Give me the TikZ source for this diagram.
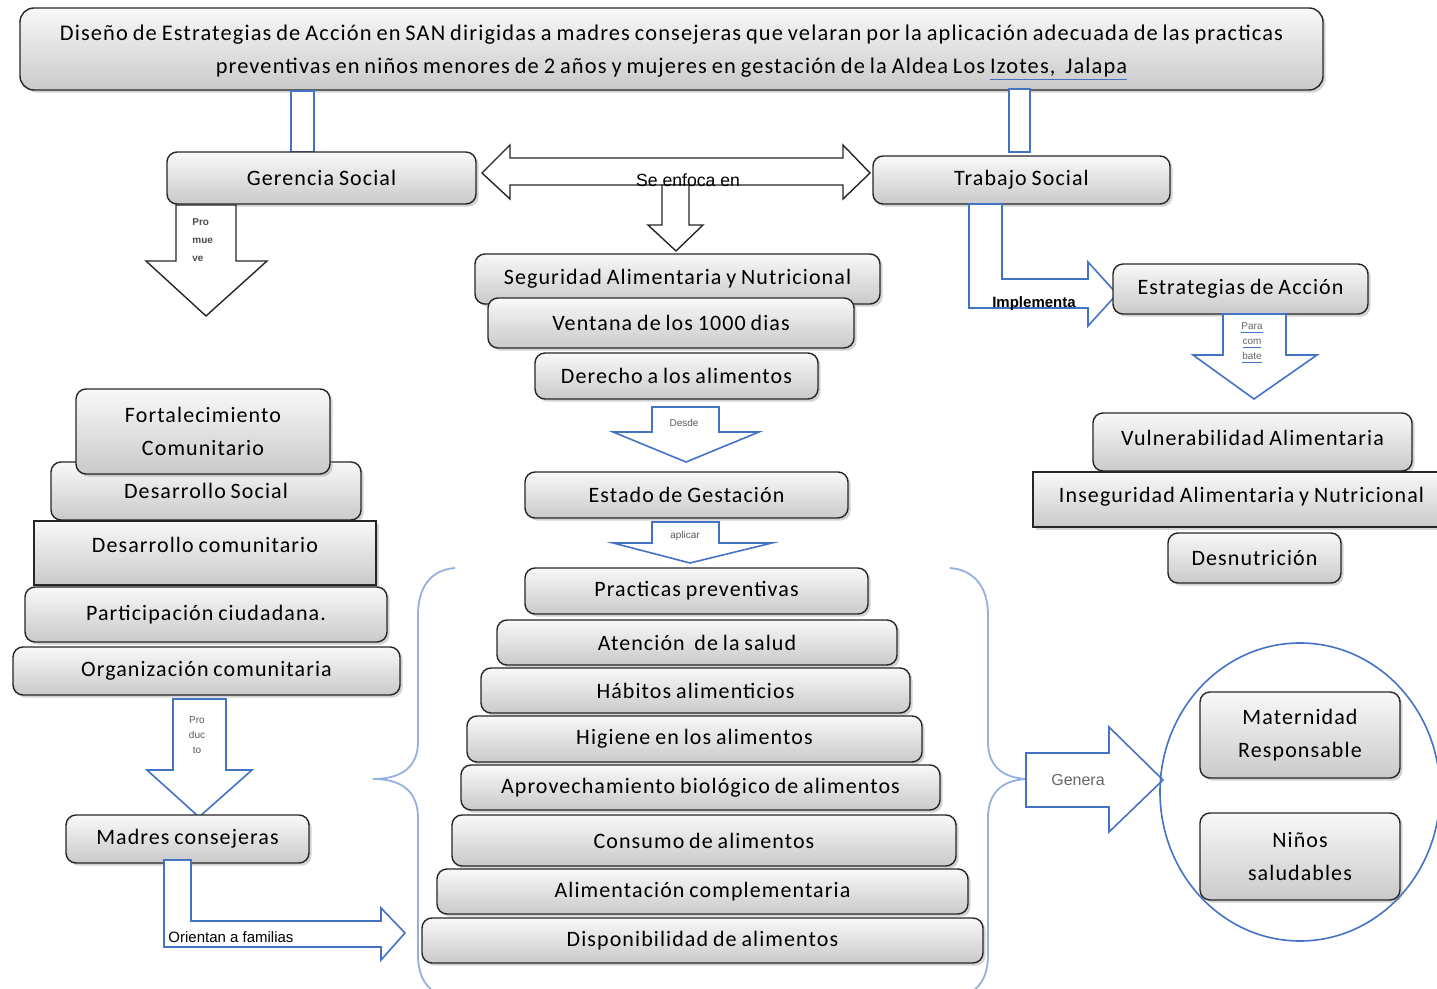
\documentclass[tikz,border=0pt]{standalone}
\usepackage{fontspec}
\setmainfont{Carlito}[LetterSpace=5,WordSpace=0.8]
\newfontfamily\arialf{Liberation Sans}
\usetikzlibrary{shadows}
\definecolor{arrblue}{RGB}{68,114,196}
\definecolor{braceblue}{RGB}{150,176,222}
\tikzset{
  % --- gray boxes ------------------------------------------------------------
  box/.style={draw=black!85,line width=0.7pt,rounded corners=5pt,
              top color=gray!5,bottom color=gray!42,align=center,inner sep=0pt,
              font=\fontsize{11}{16.5}\selectfont,
              drop shadow={shadow xshift=1.3pt,shadow yshift=-1.3pt,opacity=0.35}},
  sqbox/.style={box,rounded corners=0pt},
  % --- block arrows ----------------------------------------------------------
  blk/.style={draw=black!85,fill=white,line width=0.7pt},
  bblk/.style={draw=arrblue,fill=white,line width=0.8pt},
  brace/.style={draw=braceblue,line width=0.9pt},
  % --- small labels inside arrows ------------------------------------------
  minilab/.style={font=\arialf\fontsize{5}{7.5}\selectfont,text=black!65,
                  align=center,inner sep=0pt},
  arrlab/.style={font=\arialf\fontsize{7.5}{9}\selectfont,inner sep=0pt},
}
\begin{document}
\begin{tikzpicture}[x=0.5pt,y=-0.5pt]
  \useasboundingbox (0,0) rectangle (1437,989);

  % title
  \node[box,rounded corners=7pt,minimum width=651.5pt,minimum height=41pt,text depth=0pt,
        font=\fontsize{11.2}{16.5}\selectfont] (title) at (671.5,49)
    {Diseño de Estrategias de Acción en SAN dirigidas a madres consejeras que velaran por la aplicación adecuada de las practicas\\
     preventivas en niños menores de 2 años y mujeres en gestación de la Aldea Los
     \textcolor{arrblue}{\underline{\textcolor{black}{Izotes, \ Jalapa}}}};
  \draw[bblk] (291,91) rectangle (314,152);
  \draw[bblk] (1009,89) rectangle (1030,152);

  \node[box,minimum width=154.5pt,minimum height=26pt] (gerencia) at (321.5,178) {Gerencia Social};
  \node[box,minimum width=148.5pt,minimum height=24pt] (trabajo)  at (1021.5,180) {Trabajo Social};

  % Se enfoca en
  \draw[blk] (482,173) -- (510,145) -- (510,158) -- (843,158) -- (843,145) -- (870,173)
             -- (843,199) -- (843,185) -- (510,185) -- (510,199) -- cycle;
  \draw[blk] (662,185) -- (689,185) -- (689,225) -- (703,225) -- (676,251) -- (648,225) -- (662,225) -- cycle;
  \node[font=\arialf\fontsize{8.8}{10}\selectfont,inner sep=0pt] (lenfoca) at (688,180) {Se enfoca en};

  % centre column
  \node[box,minimum width=202.5pt,minimum height=25pt] (seguridad) at (677.5,279) {Seguridad Alimentaria y Nutricional};
  \node[box,minimum width=183pt,minimum height=25pt]   (ventana)   at (671,323)   {Ventana de los 1000 dias};
  \node[box,minimum width=141.5pt,minimum height=23pt] (derecho)   at (676.5,376) {Derecho a los alimentos};

  \draw[bblk] (652,407) -- (719,407) -- (719,432) -- (759,432) -- (686,462) -- (613,432) -- (652,432) -- cycle;
  \node[minilab] (ldesde) at (684,423) {Desde};

  \node[box,minimum width=161.5pt,minimum height=23pt] (gestacion) at (686.5,495) {Estado de Gestación};

  \draw[bblk] (652,522) -- (719,522) -- (719,543) -- (772,543) -- (690,563) -- (613,543) -- (652,543) -- cycle;
  \node[minilab] (laplicar) at (685,536) {aplicar};

  \node[box,minimum width=171.5pt,minimum height=23pt]   (practicas)  at (696.5,591)   {Practicas preventivas};
  \node[box,minimum width=200pt,minimum height=22.5pt]   (atencion)   at (697,642.5)   {Atención \ de la salud};
  \node[box,minimum width=214.5pt,minimum height=22.5pt] (habitos)    at (695.5,690.5) {Hábitos alimenticios};
  \node[box,minimum width=227.5pt,minimum height=23pt]   (higiene)    at (694.5,739)   {Higiene en los alimentos};
  \node[box,minimum width=239.5pt,minimum height=22.5pt] (aprovecha)  at (700.5,787.5) {Aprovechamiento biológico de alimentos};
  \node[box,minimum width=252pt,minimum height=25.5pt]   (consumo)    at (704,840.5)   {Consumo de alimentos};
  \node[box,minimum width=265.5pt,minimum height=22.5pt] (complement) at (702.5,891.5) {Alimentación complementaria};
  \node[box,minimum width=280.5pt,minimum height=22.5pt] (disponib)   at (702.5,940.5) {Disponibilidad de alimentos};

  % braces round the centre list
  \draw[brace] (455,568) .. controls (430,570) and (418,588) .. (418,615) -- (418,742)
               .. controls (418,768) and (400,779) .. (373,779)
               .. controls (400,779) and (418,790) .. (418,818) -- (418,955)
               .. controls (418,978) and (428,990) .. (440,995);
  \draw[brace] (950,568) .. controls (975,570) and (988,588) .. (988,615) -- (988,742)
               .. controls (988,768) and (1005,779) .. (1030,779)
               .. controls (1005,779) and (988,790) .. (988,818) -- (988,955)
               .. controls (988,978) and (978,990) .. (966,995);

  % left column
  \draw[blk] (176,205) -- (236,205) -- (236,261) -- (267,261) -- (206,316) -- (146,261) -- (176,261) -- cycle;
  \node[font=\arialf\bfseries\fontsize{5}{9}\selectfont,text=black!70,align=left,inner sep=0pt,anchor=west]
    (lpromueve) at (192,240) {Pro\\mue\\ve};

  \node[box,minimum width=155pt,minimum height=29pt]   (dsocial)   at (206,491)   {Desarrollo Social};
  \node[box,minimum width=127pt,minimum height=42.5pt] (fortalece) at (203,431.5) {Fortalecimiento\\Comunitario};
  \node[sqbox,minimum width=171pt,minimum height=32pt,text depth=8pt] (dcomun) at (205,553) {Desarrollo comunitario};
  \node[box,minimum width=181pt,minimum height=27.5pt] (particip)  at (206,614.5) {Participación ciudadana.};
  \node[box,minimum width=193.5pt,minimum height=24pt] (organiza)  at (206.5,671) {Organización comunitaria};

  \draw[bblk] (173,699) -- (226,699) -- (226,770) -- (252,770) -- (199,817) -- (147,770) -- (173,770) -- cycle;
  \node[minilab] (lproducto) at (197,735) {Pro\\duc\\to};

  \node[box,minimum width=121.5pt,minimum height=24pt] (madres) at (187.5,839) {Madres consejeras};

  % Orientan a familias
  \draw[bblk] (164,860) -- (191,860) -- (191,921) -- (381,921) -- (381,908) -- (405,933)
              -- (381,960) -- (381,947) -- (164,947) -- cycle;
  \node[arrlab] (lorientan) at (231,937) {Orientan a familias};

  % right column
  \draw[bblk] (969,204) -- (1002,204) -- (1002,279) -- (1088,279) -- (1088,262) -- (1117,294)
              -- (1088,326) -- (1088,308) -- (969,308) -- cycle;
  \node[font=\arialf\bfseries\fontsize{7.5}{9}\selectfont,inner sep=0pt] (limplementa) at (1034,304) {Implementa};

  \node[box,minimum width=127.5pt,minimum height=25pt] (estrateg) at (1240.5,289) {Estrategias de Acción};

  \draw[bblk] (1223,314) -- (1286,314) -- (1286,355) -- (1317,355) -- (1254,399) -- (1193,355) -- (1223,355) -- cycle;
  \node[minilab] (lpara) at (1252,343)
    {\textcolor{arrblue}{\underline{\textcolor{black!60}{Para}}}\\
     \textcolor{arrblue}{\underline{\textcolor{black!60}{com}}}\\
     \textcolor{arrblue}{\underline{\textcolor{black!60}{bate}}}};

  \node[box,minimum width=159.5pt,minimum height=29pt,text depth=4.5pt] (vulnera) at (1252.5,442) {Vulnerabilidad Alimentaria};
  \node[sqbox,minimum width=208.5pt,minimum height=27.5pt,text depth=4.5pt] (insegur) at (1241.5,499.5) {Inseguridad Alimentaria y Nutricional};
  \node[box,minimum width=86.5pt,minimum height=25pt]    (desnutri) at (1254.5,558)   {Desnutrición};

  % Genera
  \draw[bblk] (1026,753) -- (1109,753) -- (1109,727) -- (1163,780) -- (1109,832) -- (1109,807) -- (1026,807) -- cycle;
  \node[arrlab,font=\arialf\fontsize{8}{9}\selectfont,text=black!60] (lgenera) at (1078,780) {Genera};

  \draw[arrblue,line width=0.8pt] (1300,792) ellipse [x radius=70pt,y radius=74.5pt];
  \node[box,minimum width=100pt,minimum height=43pt]   (materni) at (1300,735)   {Maternidad\\Responsable};
  \node[box,minimum width=100pt,minimum height=43.5pt] (ninos)   at (1300,856.5) {Niños\\saludables};
\end{tikzpicture}
\end{document}
